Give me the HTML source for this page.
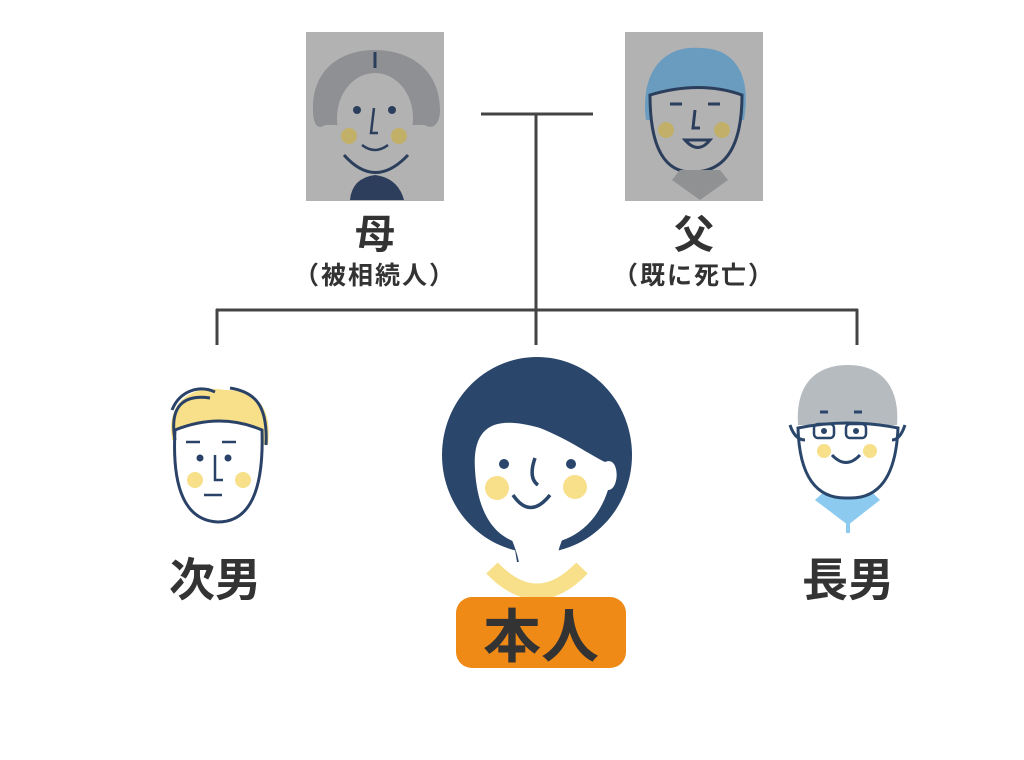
<!DOCTYPE html>
<html><head><meta charset="utf-8"><style>
body{margin:0;background:#fff;width:1024px;height:755px;overflow:hidden}
text{font-family:"Liberation Sans","Noto Sans CJK JP",sans-serif;font-weight:bold;fill:#333}
</style></head><body>
<svg width="1024" height="755" viewBox="0 0 1024 755" xmlns="http://www.w3.org/2000/svg">
<g stroke="#444" stroke-width="3" fill="none">
<line x1="481" y1="114" x2="593" y2="114"/>
<line x1="536" y1="114" x2="536" y2="345"/>
<line x1="216" y1="310" x2="858" y2="310"/>
<line x1="217" y1="309" x2="217" y2="345"/>
<line x1="857" y1="309" x2="857" y2="345"/>
</g>
<!-- mother -->
<rect x="306" y="32" width="138" height="169" fill="#b3b2b3"/>
<path d="M313,110 C312,70 340,50 375,50 C410,50 440,70 440,110 C440,125 432,130 425,125 L325,125 C318,130 313,125 313,110Z" fill="#8e9093"/>
<ellipse cx="375" cy="118" rx="38" ry="45" fill="#b3b2b3"/>
<path d="M344,155 Q375,190 408,155" stroke="#2b3f5c" stroke-width="3" fill="none"/>
<path d="M350,200 Q352,178 375,175 Q398,178 404,200Z" fill="#2c3e5b"/>
<circle cx="349" cy="136" r="8" fill="#c2b068"/><circle cx="399" cy="136" r="8" fill="#c2b068"/>
<circle cx="357" cy="110" r="4" fill="#2b3f5c"/><circle cx="392" cy="110" r="4" fill="#2b3f5c"/>
<path d="M374,108 L371,133 L378,133 M362,145 Q375,155 388,145" stroke="#2b3f5c" stroke-width="2.5" fill="none"/>
<line x1="375" y1="52" x2="375" y2="68" stroke="#2b3f5c" stroke-width="3"/>
<!-- father -->
<rect x="625" y="32" width="138" height="169" fill="#b3b2b3"/>
<path d="M646,120 C640,70 665,45 700,48 C735,48 752,75 744,120Z" fill="#6a9cc0"/>
<path d="M650,95 Q650,175 695,172 Q742,170 742,95 Q700,80 650,95Z" fill="#b3b2b3" stroke="#2b3f5c" stroke-width="3"/>
<path d="M672,180 L700,200 L728,180 L720,170 L680,170Z" fill="#8f9193"/>
<circle cx="666" cy="130" r="8" fill="#c2b068"/><circle cx="722" cy="130" r="8" fill="#c2b068"/>
<path d="M670,104 h12 M708,104 h12 M695,110 L693,128 L700,128 M685,140 Q698,155 710,140Z" stroke="#2b3f5c" stroke-width="3" fill="none"/>
<!-- labels -->
<text x="375" y="248" font-size="40" text-anchor="middle">母</text>
<text x="375" y="284" font-size="25" text-anchor="middle" letter-spacing="2">（被相続人）</text>
<text x="694" y="248" font-size="40" text-anchor="middle">父</text>
<text x="694" y="284" font-size="25" text-anchor="middle" letter-spacing="2">（既に死亡）</text>
<!-- second son -->
<path d="M172,440 C165,395 200,385 225,390 C260,390 272,410 268,445Z" fill="#f7e089"/>
<path d="M175,430 Q170,520 218,522 Q265,522 262,430 Q220,412 175,430Z" fill="#fff" stroke="#2b4268" stroke-width="3"/>
<path d="M172,410 C180,390 200,385 215,392 M230,388 C255,392 268,405 266,445 M175,440 C168,400 190,395 210,398" stroke="#2b4268" stroke-width="3" fill="none"/>
<circle cx="195" cy="480" r="8" fill="#f7e089"/><circle cx="243" cy="480" r="8" fill="#f7e089"/>
<circle cx="200" cy="458" r="3.5" fill="#2b4268"/><circle cx="228" cy="458" r="3.5" fill="#2b4268"/>
<path d="M215,455 v25 h8 M186,442 h14 M222,442 h14 M204,495 h18" stroke="#2b4268" stroke-width="2.5" fill="none"/>
<text x="215" y="596" font-size="46" text-anchor="middle">次男</text>
<!-- main -->
<path d="M492,568 Q537,615 582,568" stroke="#f7e089" stroke-width="16" fill="none"/>
<ellipse cx="537" cy="455" rx="95" ry="98" fill="#2a466b"/>
<path d="M510,520 L517,562 L555,562 L565,520Z" fill="#2a466b"/>
<path d="M512,540 Q520,560 520,572 L555,572 Q556,555 562,540Z" fill="#fff"/>
<path d="M475,470 C472,425 495,415 540,428 C570,440 590,455 605,462 C620,455 620,490 608,490 C595,530 565,545 535,545 C500,545 478,520 475,470Z" fill="#fff"/>
<circle cx="497" cy="488" r="12" fill="#f7e089"/><circle cx="575" cy="487" r="12" fill="#f7e089"/>
<circle cx="504" cy="464" r="5" fill="#2a466b"/><circle cx="571" cy="464" r="5" fill="#2a466b"/>
<path d="M535,458 Q528,478 538,485 M513,495 Q530,520 550,495" stroke="#2a466b" stroke-width="3.5" fill="none"/>
<rect x="456" y="597" width="170" height="71" rx="16" fill="#ef8a17"/>
<text x="541" y="657" font-size="58" text-anchor="middle">本人</text>
<!-- eldest son -->
<path d="M798,425 C795,380 820,365 848,365 C880,365 900,385 897,425Z" fill="#b6bbc0"/>
<path d="M815,500 L848,525 L880,500 L870,490 L826,490Z" fill="#8ccaf0"/>
<line x1="848" y1="510" x2="848" y2="533" stroke="#8ccaf0" stroke-width="4"/>
<path d="M798,428 Q800,500 848,498 Q895,500 898,428 Q848,418 798,428Z" fill="#fff" stroke="#2a466b" stroke-width="3"/>
<path d="M790,425 Q795,440 805,440 M905,425 Q900,440 892,440" stroke="#2a466b" stroke-width="3" fill="none"/>
<rect x="814" y="424" width="20" height="14" rx="4" fill="none" stroke="#2a466b" stroke-width="2.5"/>
<rect x="846" y="424" width="20" height="14" rx="4" fill="none" stroke="#2a466b" stroke-width="2.5"/>
<circle cx="824" cy="431" r="3" fill="#2a466b"/><circle cx="856" cy="431" r="3" fill="#2a466b"/>
<circle cx="824" cy="451" r="7" fill="#f7e089"/><circle cx="870" cy="451" r="7" fill="#f7e089"/>
<path d="M832,455 Q846,470 860,455 M820,412 h8 M854,412 h8" stroke="#2a466b" stroke-width="3" fill="none"/>
<text x="848" y="596" font-size="46" text-anchor="middle">長男</text>
</svg>
</body></html>
